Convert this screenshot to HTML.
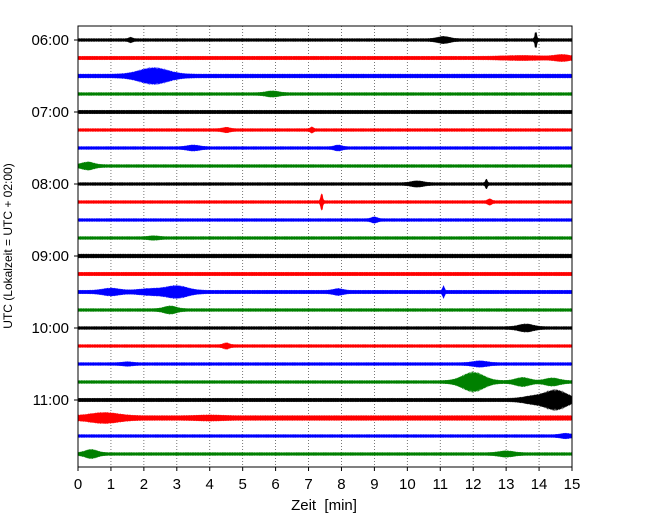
<!DOCTYPE html>
<html><head><meta charset="utf-8"><style>
body{margin:0;background:#fff}
svg{display:block;font-family:"Liberation Sans","DejaVu Sans",sans-serif}
</style></head><body>
<svg id="chart" width="650" height="520" viewBox="0 0 650 520" xmlns="http://www.w3.org/2000/svg">
<rect width="650" height="520" fill="#fff"/>
<g id="grid"></g>
<g id="traces"></g>
<rect x="78" y="26" width="494" height="441" fill="none" stroke="#000" stroke-width="1"/>
<g id="axes"></g>
<text x="324" y="510" font-size="15" text-anchor="middle" xml:space="preserve">Zeit  [min]</text>
<text transform="translate(12,246) rotate(-90)" font-size="12" text-anchor="middle">UTC (Lokalzeit = UTC + 02:00)</text>
</svg>
<script>
const xTicks=[0,1,2,3,4,5,6,7,8,9,10,11,12,13,14,15];
const yTickLabels=["06:00","07:00","08:00","09:00","10:00","11:00"];
const colors=["#000","#f00","#00f","#008000"];
const traceBase=[1.5,1.8,2,1.5,1.8,1.5,1.5,1.5,1.5,1.5,1.5,1.5,2,1.8,1.8,1.5,1.5,1.5,1.5,1.5,1.8,2.5,1.5,1.5];
const traceEvents=[
 [[1.6,1.5,0.08],[11.1,2.5,0.25],[13.9,8,0.04]],
 [[14.7,2,0.3],[13.5,1,0.8]],
 [[2.3,7,0.6]],
 [[5.9,2,0.25]],
 [],
 [[4.5,1.5,0.15],[7.1,2,0.06]],
 [[3.5,1.8,0.25],[7.9,1.8,0.15]],
 [[0.3,3,0.25]],
 [[10.3,2,0.25],[12.4,4,0.04]],
 [[7.4,8,0.04],[12.5,2,0.08]],
 [[9.0,2,0.12]],
 [[2.3,1,0.2]],
 [],
 [],
 [[1.0,2.5,0.35],[2.2,2,0.5],[3.0,5,0.45],[7.9,2,0.2],[11.1,5,0.04]],
 [[2.8,3,0.25]],
 [[13.6,3,0.3]],
 [[4.5,2,0.12]],
 [[1.5,1,0.2],[12.2,2,0.3]],
 [[12,9,0.45],[13.5,3.5,0.3],[14.4,3,0.3]],
 [[14.5,9,0.45],[13.8,2.5,0.4]],
 [[0.8,3.5,0.6],[4,0.8,0.5]],
 [[14.8,1.5,0.2]],
 [[0.4,3.5,0.25],[13,2,0.3]]
];
const NS="http://www.w3.org/2000/svg";
const X0=78,X1=572,Y0=40,DY=18;
function xs(t){return X0+(X1-X0)*t/15;}
function ys(i){return Y0+DY*i;}
const grid=document.getElementById('grid'),tr=document.getElementById('traces'),ax=document.getElementById('axes');
xTicks.forEach(t=>{
 if(t>0&&t<15){const l=document.createElementNS(NS,'line');
 
 
 l.setAttribute('x1',xs(t));l.setAttribute('x2',xs(t));l.setAttribute('y1',26);l.setAttribute('y2',467);
 l.setAttribute('stroke','#555');l.setAttribute('stroke-width','0.8');l.setAttribute('stroke-dasharray','1,2');grid.appendChild(l);}
 const tk=document.createElementNS(NS,'line');
 
 
 tk.setAttribute('x1',xs(t));tk.setAttribute('x2',xs(t));tk.setAttribute('y1',467);tk.setAttribute('y2',471);tk.setAttribute('stroke','#000');ax.appendChild(tk);
 const tx=document.createElementNS(NS,'text');
 
 
 tx.setAttribute('x',xs(t));tx.setAttribute('y',489);tx.setAttribute('font-size','15');tx.setAttribute('text-anchor','middle');tx.textContent=t;ax.appendChild(tx);
});
yTickLabels.forEach((lab,k)=>{
 const y=ys(k*4);
 const tk=document.createElementNS(NS,'line');
 
 
 tk.setAttribute('x1',74);tk.setAttribute('x2',78);tk.setAttribute('y1',y);tk.setAttribute('y2',y);tk.setAttribute('stroke','#000');ax.appendChild(tk);
 const tx=document.createElementNS(NS,'text');
 
 
 tx.setAttribute('x',69);tx.setAttribute('y',y+5);tx.setAttribute('font-size','15');tx.setAttribute('text-anchor','end');tx.textContent=lab;ax.appendChild(tx);
});
traceBase.forEach((b,i)=>{
 const yc=ys(i),ev=traceEvents[i];
 const up=[],dn=[];
 for(let t=0;t<=15.0001;t+=0.02){
  const n=Math.round(t*50);
  const m=0.65+0.35*Math.abs(Math.sin(n*1.7+i*0.9));
  let a=b*(0.85+0.15*Math.abs(Math.sin(n*2.3+i)));
  ev.forEach(e=>{a+=m*e[1]*Math.exp(-Math.pow((t-e[0])/e[2],2));});
  up.push(xs(t).toFixed(1)+','+(yc-a).toFixed(1));
  dn.unshift(xs(t).toFixed(1)+','+(yc+a).toFixed(1));
 }
 const p=document.createElementNS(NS,'polygon');
 
 
 p.setAttribute('points',up.concat(dn).join(' '));
 p.setAttribute('fill',colors[i%4]);p.setAttribute('stroke',colors[i%4]);p.setAttribute('stroke-width','0.4');
 tr.appendChild(p);
});
</script>
</body></html>
